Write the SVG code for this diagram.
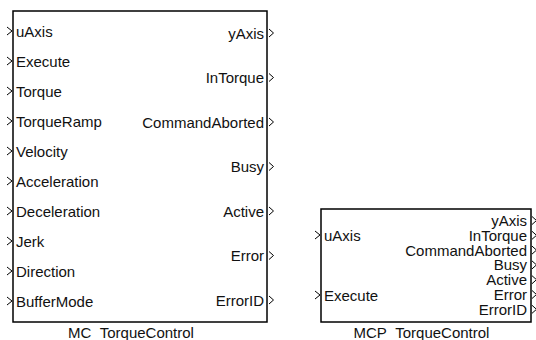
<svg xmlns="http://www.w3.org/2000/svg" width="536" height="340" viewBox="0 0 536 340">
<style>
.blk{fill:#fff;stroke:#000;stroke-width:1.5}
.port{fill:none;stroke:#000;stroke-width:1}
text{font-family:"Liberation Sans",Arial,sans-serif;font-size:15px;font-weight:400;fill:#111}
.r{text-anchor:end}
.c{text-anchor:middle}
</style>
<defs>
<path id="pin" class="port" d="M-5,-4 L0,0 L-5,4"/>
<path id="pout" class="port" d="M0,-4 L4.5,0 L0,4"/>
</defs>
<g id="MC_TorqueControl">
<rect class="blk" x="13" y="11" width="254" height="311"/>
<use href="#pin" x="12" y="31"/><text x="16" y="36.5">uAxis</text>
<use href="#pin" x="12" y="61"/><text x="16" y="66.5">Execute</text>
<use href="#pin" x="12" y="91"/><text x="16" y="96.5">Torque</text>
<use href="#pin" x="12" y="121"/><text x="16" y="126.5">TorqueRamp</text>
<use href="#pin" x="12" y="151"/><text x="16" y="156.5">Velocity</text>
<use href="#pin" x="12" y="181"/><text x="16" y="186.5">Acceleration</text>
<use href="#pin" x="12" y="211"/><text x="16" y="216.5">Deceleration</text>
<use href="#pin" x="12" y="241"/><text x="16" y="246.5">Jerk</text>
<use href="#pin" x="12" y="271"/><text x="16" y="276.5">Direction</text>
<use href="#pin" x="12" y="301"/><text x="16" y="306.5">BufferMode</text>
<use href="#pout" x="269" y="33"/><text class="r" x="264" y="38.5">yAxis</text>
<use href="#pout" x="269" y="77.5"/><text class="r" x="264" y="83">InTorque</text>
<use href="#pout" x="269" y="122"/><text class="r" x="264" y="127.5">CommandAborted</text>
<use href="#pout" x="269" y="166.5"/><text class="r" x="264" y="172">Busy</text>
<use href="#pout" x="269" y="211"/><text class="r" x="264" y="216.5">Active</text>
<use href="#pout" x="269" y="255.5"/><text class="r" x="264" y="261">Error</text>
<use href="#pout" x="269" y="300"/><text class="r" x="264" y="305.5">ErrorID</text>
<text class="c" x="131" y="338">MC_TorqueControl</text>
</g>
<g id="MCP_TorqueControl">
<rect class="blk" x="321" y="209" width="210" height="113"/>
<use href="#pin" x="320" y="235"/><text x="324" y="240.5">uAxis</text>
<use href="#pin" x="320" y="295"/><text x="324" y="300.5">Execute</text>
<use href="#pout" x="532" y="220.5"/><text class="r" x="527" y="226">yAxis</text>
<use href="#pout" x="532" y="235.3"/><text class="r" x="527" y="240.8">InTorque</text>
<use href="#pout" x="532" y="250.1"/><text class="r" x="527" y="255.6">CommandAborted</text>
<use href="#pout" x="532" y="264.9"/><text class="r" x="527" y="270.4">Busy</text>
<use href="#pout" x="532" y="279.7"/><text class="r" x="527" y="285.2">Active</text>
<use href="#pout" x="532" y="294.5"/><text class="r" x="527" y="300">Error</text>
<use href="#pout" x="532" y="309.3"/><text class="r" x="527" y="314.8">ErrorID</text>
<text class="c" x="421.5" y="338">MCP_TorqueControl</text>
</g>
<g id="connectors"/>
</svg>
